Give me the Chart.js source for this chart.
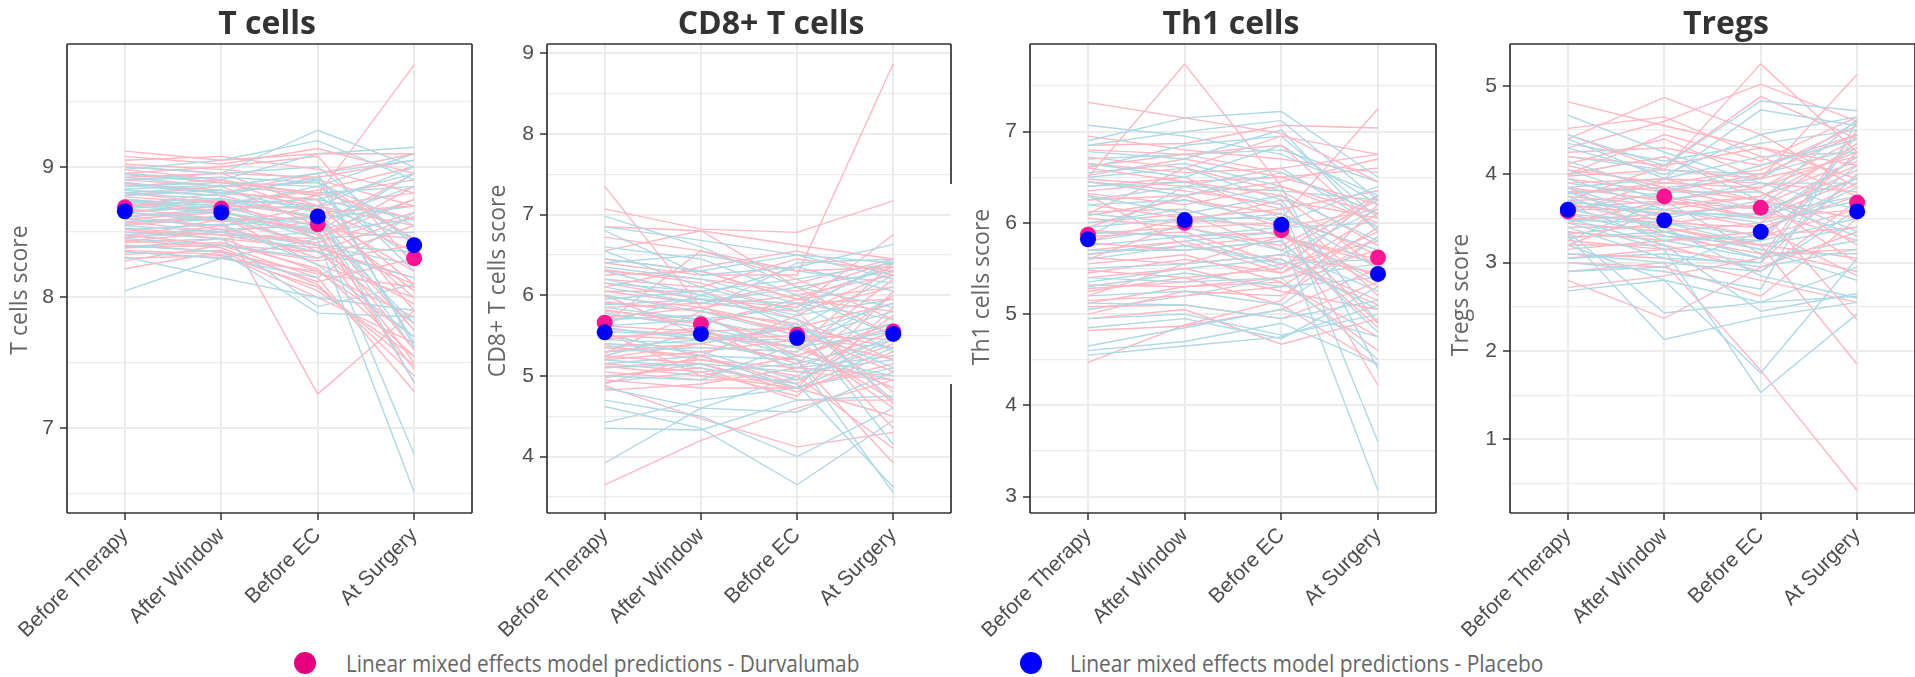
<!DOCTYPE html>
<html><head><meta charset="utf-8">
<script src="https://cdn.jsdelivr.net/npm/chart.js@4.4.0/dist/chart.umd.min.js"></script>
<style>
html,body{margin:0;padding:0;background:#fff;width:1915px;height:677px;overflow:hidden;position:relative;}
canvas{position:absolute;top:0;}
.leg{position:absolute;font-family:'Open Sans';font-size:23px;line-height:23px;color:#666;white-space:nowrap;transform-origin:0 50%;}
.dot{position:absolute;width:22px;height:22px;border-radius:50%;}
</style></head><body>
<canvas id="c0" width="480" height="640" style="left:0px"></canvas>
<canvas id="c1" width="480" height="640" style="left:479px"></canvas>
<canvas id="c2" width="482" height="640" style="left:962px"></canvas>
<canvas id="c3" width="481" height="640" style="left:1442px"></canvas>
<div class="dot" style="left:294px;top:652px;background:#e6007e"></div>
<div class="leg" id="leg0" style="left:346px;top:652px">Linear mixed effects model predictions - Durvalumab</div>
<div class="dot" style="left:1020px;top:652px;background:#0000ff"></div>
<div class="leg" id="leg1" style="left:1070px;top:652px">Linear mixed effects model predictions - Placebo</div>
<script>
// ---------- data ----------
const timepoints = ['Before Therapy', 'After Window', 'Before EC', 'At Surgery'];
const panelTitles = ['T cells', 'CD8+ T cells', 'Th1 cells', 'Tregs'];
const yAxisTitles = ['T cells score', 'CD8+ T cells score', 'Th1 cells score', 'Tregs score'];

const tcellsTicks = [6.5, 7, 7.5, 8, 8.5, 9, 9.5];
const cd8Ticks = [3.5, 4, 4.5, 5, 5.5, 6, 6.5, 7, 7.5, 8, 8.5, 9];
const th1Ticks = [3, 3.5, 4, 4.5, 5, 5.5, 6, 6.5, 7, 7.5];
const tregsTicks = [0.5, 1, 1.5, 2, 2.5, 3, 3.5, 4, 4.5, 5];

const tcellsPredDurvalumab = [8.69, 8.68, 8.56, 8.30];
const tcellsPredPlacebo = [8.66, 8.65, 8.62, 8.40];
const cd8PredDurvalumab = [5.66, 5.64, 5.51, 5.55];
const cd8PredPlacebo = [5.54, 5.52, 5.47, 5.52];
const th1PredDurvalumab = [5.87, 6.00, 5.92, 5.62];
const th1PredPlacebo = [5.82, 6.03, 5.98, 5.44];
const tregsPredDurvalumab = [3.58, 3.75, 3.62, 3.68];
const tregsPredPlacebo = [3.60, 3.48, 3.35, 3.58];

const tcellsDurvalumab = [
 [9.12,9.05,9.10,9.10],[9.08,9.02,9.14,8.95],[9.05,9.08,8.98,8.80],[9.00,8.95,8.92,9.05],
 [8.98,8.90,8.78,9.78],[8.95,8.88,8.80,8.60],[8.92,8.95,8.70,8.10],[8.90,8.85,8.88,8.45],
 [8.88,8.80,8.75,7.90],[8.85,8.90,8.65,8.70],[8.82,8.78,8.60,8.05],[8.80,8.72,8.82,9.00],
 [8.78,8.85,8.55,7.75],[8.75,8.70,8.68,8.35],[8.72,8.65,8.50,7.60],[8.70,8.75,8.45,8.85],
 [8.68,8.60,8.40,7.45],[8.65,8.58,8.62,8.20],[8.62,8.68,8.35,7.95],[8.60,8.55,8.30,8.55],
 [8.58,8.50,8.58,7.35],[8.55,8.62,8.25,8.00],[8.52,8.45,8.20,7.70],[8.50,8.48,8.45,8.75],
 [8.48,8.40,8.15,7.28],[8.46,8.60,7.26,7.90],[8.44,8.38,8.10,7.40],[8.42,8.45,8.38,8.15],
 [8.40,8.35,8.05,7.55],[8.38,8.40,8.28,8.40],[8.36,8.33,8.00,7.65],[8.35,8.30,8.20,7.85],
 [8.33,8.36,8.12,8.30],[8.30,8.32,8.08,7.48],[8.28,8.40,8.35,8.62],[8.22,8.35,8.18,8.08],
 [8.95,9.00,9.08,8.25],[8.70,8.80,8.95,9.10],[8.60,8.65,8.78,8.90],[8.45,8.55,8.70,8.80],
 [8.87,8.82,8.70,8.55],[8.77,8.72,8.62,8.00],[8.57,8.62,8.52,8.45],[8.53,8.48,8.35,7.80],
 [8.43,8.50,8.42,8.65],[8.39,8.42,8.22,7.55],[8.66,8.70,8.55,8.95],[8.74,8.66,8.48,7.50],
 [9.02,8.98,8.90,8.70],[8.63,8.52,8.40,8.10]
];
const tcellsPlacebo = [
 [9.00,8.95,9.28,9.00],[8.98,9.05,9.20,8.90],[8.95,8.90,9.10,9.15],[8.92,8.85,8.95,9.05],
 [8.90,8.92,8.88,8.55],[8.88,8.80,8.90,7.65],[8.85,8.88,8.80,8.85],[8.82,8.78,8.92,8.20],
 [8.80,8.75,8.70,9.00],[8.78,8.82,8.65,7.35],[8.75,8.70,8.85,8.45],[8.72,8.76,8.60,8.70],
 [8.70,8.65,8.55,6.80],[8.68,8.72,8.75,8.60],[8.65,8.60,8.50,8.95],[8.62,8.66,8.45,6.51],
 [8.60,8.55,8.62,7.60],[8.58,8.62,8.40,8.35],[8.55,8.50,8.35,8.15],[8.52,8.56,8.25,7.70],
 [8.50,8.45,7.93,8.10],[8.45,8.40,8.30,8.55],[8.40,8.35,7.88,7.85],[8.35,8.30,8.15,8.65],
 [8.31,8.15,8.00,7.90],[8.05,8.30,8.45,8.50],[8.80,8.85,8.95,7.62],[8.65,8.70,8.50,8.75],
 [8.48,8.52,8.55,7.80],[8.90,8.95,9.00,8.40],
 [8.86,8.80,8.75,8.95],[8.74,8.68,8.70,8.45],[8.56,8.60,8.60,8.85],[8.46,8.50,8.40,8.25],
 [8.94,8.88,8.85,9.10],[8.69,8.74,8.62,7.75],[8.38,8.45,8.50,8.60],[8.83,8.86,8.78,8.30]
];
const cd8Durvalumab = [
 [7.35,5.85,5.50,5.20],[7.07,6.82,6.78,7.17],[6.85,6.80,6.62,6.45],[6.72,6.55,6.30,6.35],
 [6.55,6.80,6.10,5.50],[6.40,6.25,6.25,8.87],[6.30,6.20,6.05,6.42],[6.25,6.30,5.95,5.80],
 [6.20,6.10,6.45,6.30],[6.15,5.95,5.85,6.75],[6.05,6.05,5.70,5.20],[5.98,5.85,6.00,6.25],
 [5.92,5.80,5.55,5.05],[5.85,5.90,5.80,6.10],[5.80,5.70,5.40,4.70],[5.75,5.65,5.90,5.95],
 [5.70,5.75,5.25,5.60],[5.62,5.55,5.60,4.35],[5.58,5.50,5.15,6.00],[5.50,5.45,5.50,5.45],
 [5.45,5.60,5.05,4.95],[5.40,5.35,5.30,6.20],[5.35,5.25,4.90,5.75],[5.30,5.40,5.20,3.92],
 [5.25,5.15,4.80,5.30],[5.20,5.30,5.45,4.60],[5.15,5.05,4.75,5.85],[5.10,5.20,5.00,4.10],
 [5.05,4.95,4.95,5.40],[5.00,5.10,4.70,4.70],[4.95,4.85,4.85,6.05],[4.88,4.47,4.12,4.30],
 [4.82,4.90,5.10,5.00],[3.65,4.20,4.60,4.95],[6.00,5.50,5.35,6.40],[5.55,5.00,4.85,5.15],
 [6.10,6.35,6.55,6.25],[5.65,6.55,6.20,5.70],[5.28,5.80,5.65,4.80],[4.90,5.25,5.75,6.30],
 [6.45,6.30,5.95,6.10],[6.05,5.90,6.15,6.45],[5.72,5.85,5.60,5.35],[5.48,5.55,5.35,4.85],
 [5.22,5.40,5.60,5.90],[5.12,5.00,5.25,5.65],[4.98,5.15,4.85,4.50],[5.82,5.65,5.95,6.35],
 [6.32,6.15,5.80,4.65],[5.38,5.20,5.10,5.55]
];
const cd8Placebo = [
 [6.98,6.60,6.10,5.85],[6.85,6.68,6.50,6.40],[6.80,6.25,6.35,6.63],[6.60,6.45,6.00,5.50],
 [6.55,6.10,5.80,6.45],[6.45,6.30,6.50,6.20],[6.35,6.20,5.90,5.30],[6.30,6.00,6.35,6.05],
 [6.20,5.95,5.70,4.70],[6.10,5.90,6.10,6.30],[6.00,5.80,5.50,5.90],[5.95,6.05,5.60,5.10],
 [5.85,5.70,5.85,6.40],[5.78,5.60,5.35,5.55],[5.70,5.75,5.20,3.55],[5.60,5.45,5.45,5.80],
 [5.55,5.50,5.10,5.25],[5.45,5.40,5.65,4.15],[5.40,5.30,4.95,5.45],[5.30,5.35,5.30,6.00],
 [5.20,5.10,4.90,3.62],[5.10,5.15,5.05,5.20],[5.00,4.95,5.40,5.65],[4.85,4.60,4.55,5.05],
 [4.70,4.50,4.00,4.60],[4.62,4.35,3.65,4.45],[4.42,4.70,4.85,5.35],[4.35,4.33,4.70,4.75],
 [3.92,4.60,5.00,5.50],[5.90,5.80,6.40,6.45],[5.65,6.00,5.75,5.95],[5.25,5.55,5.25,5.00],
 [6.15,6.05,6.20,6.40],[5.88,5.95,5.90,5.70],[5.62,5.70,5.45,5.35],[5.35,5.45,5.60,6.25],
 [5.15,5.25,5.20,4.95],[4.92,5.05,5.15,5.45],[6.40,6.50,6.30,6.15],[5.52,5.25,4.85,5.10]
];
const th1Durvalumab = [
 [7.32,7.15,6.98,6.45],[6.50,7.74,6.40,6.10],[6.85,6.87,7.07,7.04],[6.80,6.75,6.85,5.90],
 [6.72,6.60,6.95,6.75],[6.65,6.55,6.60,6.75],[6.60,6.45,6.30,5.50],[6.52,6.70,6.50,6.20],
 [6.45,6.35,6.20,5.20],[6.40,6.50,6.05,7.25],[6.32,6.20,6.40,6.00],[6.25,6.30,5.95,4.90],
 [6.20,6.05,6.15,6.35],[6.12,6.15,5.85,5.60],[6.05,5.95,6.00,4.22],[6.00,6.10,5.70,6.25],
 [5.92,5.85,5.90,5.30],[5.85,5.90,5.55,5.80],[5.78,5.70,5.80,4.85],[5.70,5.80,5.45,6.10],
 [5.62,5.55,5.65,5.45],[5.55,5.65,5.35,4.60],[5.48,5.40,5.50,6.30],[5.40,5.50,5.25,5.05],
 [5.32,5.30,5.40,5.70],[5.25,5.40,5.10,4.45],[5.15,5.20,5.30,5.95],[5.08,5.10,4.95,5.35],
 [5.00,5.25,5.20,5.85],[4.95,5.05,4.67,4.95],[4.82,4.87,5.05,5.50],[4.47,4.88,5.15,6.20],
 [6.95,6.80,6.70,6.55],[5.95,6.30,6.45,6.70],[5.60,6.00,6.25,6.05],[6.30,5.75,5.60,5.15],
 [5.20,5.55,5.85,5.55],[6.10,6.60,6.35,5.75],
 [6.62,6.75,6.55,6.10],[6.35,6.45,6.50,6.60],[6.08,6.25,6.10,5.65],[5.88,5.95,5.75,6.30],
 [5.66,5.75,5.85,5.40],[5.45,5.60,5.45,5.90],[5.28,5.35,5.55,5.10],[5.12,5.30,5.35,4.75],
 [6.48,6.40,6.15,6.35],[5.80,6.05,5.95,6.15]
];
const th1Placebo = [
 [7.07,6.95,6.75,6.30],[6.90,7.15,7.22,6.50],[6.85,7.00,7.12,6.25],[6.78,6.70,7.02,5.90],
 [6.65,6.50,6.85,6.20],[6.55,6.65,6.40,4.40],[6.45,6.30,6.55,6.10],[6.40,6.45,6.20,3.60],
 [6.30,6.10,6.30,5.80],[6.20,6.25,6.00,6.40],[6.10,6.00,6.10,5.50],[6.00,6.15,5.85,3.07],
 [5.90,5.85,5.95,6.00],[5.80,5.95,5.70,5.25],[5.70,5.70,5.80,4.80],[5.60,5.75,5.55,5.60],
 [5.50,5.55,5.65,6.15],[5.40,5.35,5.40,4.50],[5.30,5.45,5.30,5.40],[5.20,5.25,5.10,5.85],
 [5.12,5.10,4.95,5.15],[4.95,5.00,4.77,5.00],[4.85,4.95,4.73,5.30],[4.65,4.85,5.05,4.75],
 [4.60,4.70,4.90,4.45],[4.55,4.65,4.75,5.10],[6.60,6.85,6.95,6.05],[5.85,6.40,6.60,5.95],
 [6.70,6.75,6.80,6.45],[6.25,6.40,6.35,6.25],[5.95,6.05,6.05,5.70],[5.65,5.80,5.90,5.35],
 [5.35,5.50,5.60,5.05],[5.05,5.20,5.40,5.55],[6.50,6.60,6.25,4.90],[5.75,5.85,5.50,6.30]
];
const tregsDurvalumab = [
 [4.82,4.55,4.30,4.10],[4.52,4.65,4.20,3.75],[4.45,4.05,5.25,4.25],[4.40,4.87,4.45,3.85],
 [4.30,4.60,5.02,4.60],[4.20,4.10,4.88,4.40],[4.12,4.40,3.95,5.13],[4.05,3.90,4.05,4.55],
 [4.00,4.20,3.80,3.20],[3.95,3.80,4.00,4.45],[3.90,3.95,3.70,3.00],[3.85,3.70,3.85,4.25],
 [3.80,3.85,3.60,2.35],[3.75,3.65,3.75,4.15],[3.70,3.75,3.50,3.60],[3.65,3.55,3.65,4.35],
 [3.60,3.60,3.40,2.85],[3.55,3.45,3.55,4.05],[3.50,3.50,3.30,3.40],[3.45,3.35,3.45,4.20],
 [3.40,3.40,3.20,1.85],[3.35,3.25,3.35,3.90],[3.30,3.30,3.10,3.15],[3.25,3.15,3.00,4.00],
 [3.20,3.20,2.90,3.70],[3.10,3.05,2.80,2.55],[3.00,2.95,2.62,3.50],[2.90,3.00,1.78,0.42],
 [2.80,2.37,2.95,3.35],[2.72,2.85,3.05,4.50],[4.00,4.45,4.15,4.65],[3.70,4.10,4.30,3.95],
 [3.55,3.95,3.90,3.80],[3.20,3.60,3.75,4.30],[3.85,3.30,3.20,3.05],[3.45,3.70,3.60,3.25],
 [4.25,4.30,4.10,4.45],[3.98,4.05,3.95,4.20],[3.78,3.90,3.85,4.40],[3.62,3.70,3.50,3.95],
 [3.48,3.55,3.65,4.10],[3.32,3.45,3.40,3.75],[3.15,3.25,3.30,3.60],[3.05,3.15,3.25,4.25],
 [4.10,3.85,3.70,3.50],[3.68,3.40,3.15,2.90]
];
const tregsPlacebo = [
 [4.67,4.25,3.90,3.60],[4.45,4.10,4.83,4.72],[4.40,3.95,4.73,4.55],[4.30,4.00,4.45,4.65],
 [4.15,3.80,4.10,4.40],[4.05,3.70,3.90,3.90],[3.95,3.60,3.50,4.20],[3.85,3.50,3.70,3.30],
 [3.80,3.45,3.30,4.10],[3.75,3.35,3.15,2.80],[3.70,3.55,3.55,3.75],[3.65,3.25,3.05,4.00],
 [3.60,3.40,2.85,2.60],[3.55,3.30,3.25,3.50],[3.50,3.20,2.45,2.65],[3.45,3.15,1.53,2.42],
 [3.40,3.05,3.00,4.45],[3.35,2.43,2.55,2.62],[3.30,2.13,2.38,2.55],[3.20,2.80,1.75,3.05],
 [3.10,3.00,2.90,3.60],[3.00,2.90,2.70,4.60],[2.90,2.95,3.35,3.85],[2.68,2.80,2.55,2.95],
 [3.85,3.95,4.20,4.25],[4.00,4.20,3.70,4.62],[3.60,3.80,3.80,3.35],[3.25,3.70,3.10,3.10],
 [4.20,4.05,4.00,4.30],[3.90,3.75,3.60,3.95],[3.68,3.60,3.45,3.70],[3.48,3.45,3.20,3.40],
 [3.28,3.35,3.05,3.25],[3.05,3.10,2.95,3.15],[4.35,4.15,4.35,4.50],[3.78,3.85,3.95,4.60]
];

// ---------- panels ----------
const panels = [
  {durva: tcellsDurvalumab, placebo: tcellsPlacebo, pd: tcellsPredDurvalumab, pp: tcellsPredPlacebo, ticks: tcellsTicks,
   min: 6.35, max: 9.94, yW: 67, titleX: 267, yTitleX: 26.7, yTitleY: 290, gap: null},
  {durva: cd8Durvalumab, placebo: cd8Placebo, pd: cd8PredDurvalumab, pp: cd8PredPlacebo, ticks: cd8Ticks,
   min: 3.30, max: 9.115, yW: 68, titleX: 292, yTitleX: 26, yTitleY: 281, gap: [184, 384]},
  {durva: th1Durvalumab, placebo: th1Placebo, pd: th1PredDurvalumab, pp: th1PredPlacebo, ticks: th1Ticks,
   min: 2.82, max: 7.96, yW: 68, titleX: 269, yTitleX: 27.3, yTitleY: 287, gap: null},
  {durva: tregsDurvalumab, placebo: tregsPlacebo, pd: tregsPredDurvalumab, pp: tregsPredPlacebo, ticks: tregsTicks,
   min: 0.166, max: 5.475, yW: 68, titleX: 284, yTitleX: 26.3, yTitleY: 295, gap: null}
];

const decor = {
  id: 'decor',
  afterDraw(chart, args, o) {
    const {ctx, chartArea: a} = chart;
    ctx.save();
    ctx.strokeStyle = '#333333';
    ctx.lineWidth = 1.7;
    ctx.beginPath();
    ctx.moveTo(a.left, a.top); ctx.lineTo(a.right, a.top);
    ctx.moveTo(a.left, a.top); ctx.lineTo(a.left, a.bottom);
    ctx.moveTo(a.left, a.bottom); ctx.lineTo(a.right, a.bottom);
    if (o.gap) {
      ctx.moveTo(a.right, a.top); ctx.lineTo(a.right, o.gap[0]);
      ctx.moveTo(a.right, o.gap[1]); ctx.lineTo(a.right, a.bottom);
    } else {
      ctx.moveTo(a.right, a.top); ctx.lineTo(a.right, a.bottom);
    }
    ctx.stroke();
    ctx.fillStyle = '#333333';
    ctx.font = 'bold 32px "Open Sans"';
    ctx.textAlign = 'center';
    ctx.textBaseline = 'alphabetic';
    ctx.fillText(o.title, o.titleX, 34);
    ctx.translate(o.yTitleX, o.yTitleY);
    ctx.rotate(-Math.PI / 2);
    ctx.font = '23px "Open Sans"';
    ctx.fillStyle = '#666666';
    ctx.fillText(o.yTitle, 0, 0);
    ctx.restore();
  }
};

const isInt = v => Math.abs(v - Math.round(v)) < 1e-9;
const toPts = arr => arr.map((v, i) => (v == null ? null : {x: i, y: v}));

panels.forEach((p, k) => {
  const datasets = [];
  datasets.push({data: toPts(p.pp), showLine: false, pointRadius: 8, pointHoverRadius: 8,
    pointBackgroundColor: '#0000ff', pointBorderWidth: 0, borderColor: '#0000ff', order: 0});
  datasets.push({data: toPts(p.pd), showLine: false, pointRadius: 8, pointHoverRadius: 8,
    pointBackgroundColor: '#ff1493', pointBorderWidth: 0, borderColor: '#ff1493', order: 1});
  const n = Math.max(p.durva.length, p.placebo.length);
  for (let i = 0; i < n; i++) {
    if (i < p.placebo.length) datasets.push({data: toPts(p.placebo[i]), borderColor: '#add8e6', borderWidth: 1.4,
      pointRadius: 0, fill: false, tension: 0, spanGaps: true, order: 2});
    if (i < p.durva.length) datasets.push({data: toPts(p.durva[i]), borderColor: '#ffb6c1', borderWidth: 1.4,
      pointRadius: 0, fill: false, tension: 0, spanGaps: true, order: 2});
  }
  new Chart(document.getElementById('c' + k), {
    type: 'line',
    data: {datasets},
    options: {
      responsive: false, animation: false,
      layout: {padding: {top: 44, right: 6, left: 0, bottom: 0}},
      plugins: {legend: {display: false}, tooltip: {enabled: false},
        decor: {title: panelTitles[k], yTitle: yAxisTitles[k], titleX: p.titleX, yTitleX: p.yTitleX, yTitleY: p.yTitleY, gap: p.gap}},
      scales: {
        x: {type: 'linear', min: -0.6, max: 3.6,
          afterBuildTicks: s => { s.ticks = timepoints.map((_, i) => ({value: i})); },
          afterFit: s => { s.height = 127; },
          ticks: {callback: v => timepoints[v], minRotation: 45, maxRotation: 45, autoSkip: false,
            font: {family: 'Liberation Sans', size: 21}, color: '#4d4d4d', padding: 3},
          grid: {color: '#ebebeb', lineWidth: 2, tickLength: 7, tickColor: '#333333', tickWidth: 1.5},
          border: {display: false}},
        y: {type: 'linear', min: p.min, max: p.max,
          afterBuildTicks: s => { s.ticks = p.ticks.map(v => ({value: v})); },
          afterFit: s => { s.width = p.yW; },
          ticks: {callback: v => (isInt(v) ? String(Math.round(v)) : ''), autoSkip: false,
            font: {family: 'Liberation Sans', size: 21}, color: '#4d4d4d', padding: 6},
          grid: {color: '#ebebeb',
            lineWidth: c => (c.tick && isInt(c.tick.value) ? 2 : 1.3),
            tickLength: 7,
            tickColor: c => (c.tick && isInt(c.tick.value) ? '#333333' : 'rgba(0,0,0,0)'),
            tickWidth: 1.5},
          border: {display: false}}
      }
    },
    plugins: [decor]
  });
});

// legend text widths matched to reference
[['leg0', 514], ['leg1', 473]].forEach(([id, w]) => {
  const el = document.getElementById(id);
  const s = w / el.offsetWidth;
  el.style.transform = 'scaleX(' + s.toFixed(3) + ')';
});
</script>
</body></html>
